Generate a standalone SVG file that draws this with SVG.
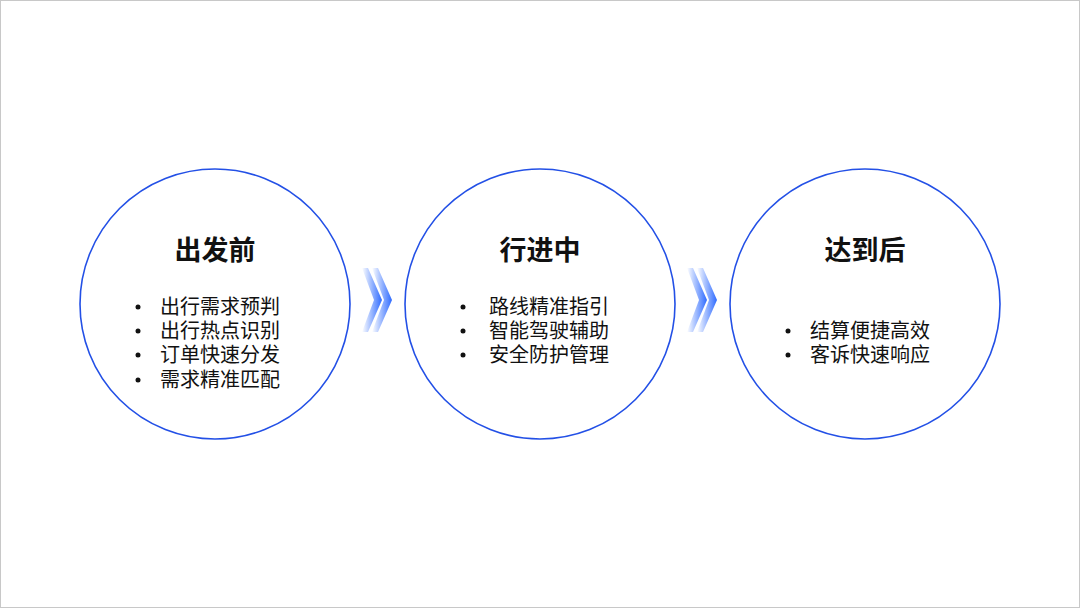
<svg xmlns="http://www.w3.org/2000/svg" width="1080" height="608" viewBox="0 0 1080 608">
<defs>
<linearGradient id="chev" x1="0" y1="0" x2="1" y2="0">
<stop offset="0" stop-color="#2f6bff" stop-opacity="0"/>
<stop offset="1" stop-color="#2f6bff" stop-opacity="1"/>
</linearGradient>
<style>
.ring{fill:#fff;stroke:#2350e6;stroke-width:1.6}
.title{font-family:"Noto Sans CJK SC","Noto Sans",sans-serif;font-weight:700;font-size:27px;fill:#111;text-anchor:middle}
.item{font-family:"Noto Sans CJK SC","Noto Sans",sans-serif;font-size:20px;fill:#111}
.dot{fill:#111}
</style>
</defs>
<rect x="0.5" y="0.5" width="1079" height="607" fill="#fff" stroke="#c8c8c8" stroke-width="1"/>
<g id="connectors">
<g id="arrow1">
<polygon points="362,268 368,268 382,300 368,332 362,332 374,300" fill="url(#chev)"/>
<polygon points="372,268 378,268 392,300 378,332 372,332 384,300" fill="url(#chev)"/>
</g>
<g id="arrow2">
<polygon points="687,268 693,268 707,300 693,332 687,332 699,300" fill="url(#chev)"/>
<polygon points="697,268 703,268 717,300 703,332 697,332 709,300" fill="url(#chev)"/>
</g>
</g>
<g id="node-before">
<circle class="ring" cx="215" cy="304" r="135"/>
<text class="title" x="215" y="260">出发前</text>
<circle class="dot" cx="138" cy="307" r="2.5"/>
<circle class="dot" cx="138" cy="331" r="2.5"/>
<circle class="dot" cx="138" cy="355" r="2.5"/>
<circle class="dot" cx="138" cy="380" r="2.5"/>
<text class="item"><tspan x="160" y="314">出行需求预判</tspan><tspan x="160" y="338">出行热点识别</tspan><tspan x="160" y="362">订单快速分发</tspan><tspan x="160" y="387">需求精准匹配</tspan></text>
</g>
<g id="node-during">
<circle class="ring" cx="540" cy="304" r="135"/>
<text class="title" x="540" y="260">行进中</text>
<circle class="dot" cx="463" cy="307" r="2.5"/>
<circle class="dot" cx="463" cy="331" r="2.5"/>
<circle class="dot" cx="463" cy="355" r="2.5"/>
<text class="item"><tspan x="489" y="314">路线精准指引</tspan><tspan x="489" y="338">智能驾驶辅助</tspan><tspan x="489" y="362">安全防护管理</tspan></text>
</g>
<g id="node-after">
<circle class="ring" cx="865" cy="304" r="135"/>
<text class="title" x="865" y="260">达到后</text>
<circle class="dot" cx="788" cy="331" r="2.5"/>
<circle class="dot" cx="788" cy="355" r="2.5"/>
<text class="item"><tspan x="810" y="338">结算便捷高效</tspan><tspan x="810" y="362">客诉快速响应</tspan></text>
</g>
</svg>
